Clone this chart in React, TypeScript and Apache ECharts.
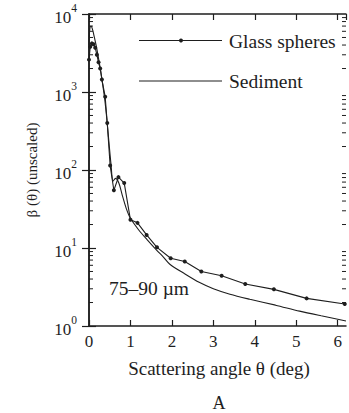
import React, { useEffect, useRef } from "react";
import * as echarts from "echarts";

// Glass spheres: measured phase function (connected points with markers)
const glassAngle = [0, 0.03, 0.07, 0.11, 0.15, 0.19, 0.23, 0.27, 0.31, 0.39, 0.44, 0.51, 0.6, 0.71, 0.85, 1.0, 1.17, 1.39, 1.64, 1.97, 2.31, 2.71, 3.2, 3.77, 4.46, 5.25, 6.17];
const glassBeta = [2600, 3800, 4200, 4100, 3700, 3000, 2400, 2000, 1450, 870, 400, 114, 55, 81, 68, 23, 21, 14.7, 10.2, 7.4, 6.7, 5.0, 4.4, 3.45, 2.95, 2.26, 1.91];

// Sediment: smooth curve without markers
const sedimentAngle = [0, 0.02, 0.05, 0.09, 0.13, 0.18, 0.23, 0.28, 0.33, 0.38, 0.43, 0.48, 0.53, 0.58, 0.64, 0.72, 0.8, 0.9, 1.0, 1.2, 1.4, 1.63, 1.8, 1.95, 2.3, 2.67, 3.0, 3.4, 3.88, 4.5, 5.08, 5.6, 6.2];
const sedimentBeta = [4000, 6500, 7000, 6200, 5000, 3800, 2700, 1900, 1250, 800, 450, 230, 120, 72, 78, 68, 48, 32, 24, 17, 12.8, 9.4, 7.6, 6.2, 4.7, 3.6, 3.0, 2.55, 2.2, 1.85, 1.55, 1.35, 1.16];

// Axis structure
const xMin = 0;
const xMax = 6.2;
const yDecades = [0, 1, 2, 3, 4];
const minorMantissas = [2, 3, 4, 5, 6, 7, 8, 9];

const SERIF = "Liberation Serif";
const INK = "#1e1e1e";

// free-standing text placed through title components
const label = (text: string, left: number, top: number, fontSize: number, textAlign = "left") => ({
  text,
  left,
  top,
  padding: 0,
  textAlign,
  textVerticalAlign: "middle",
  textStyle: { fontFamily: SERIF, fontSize, fontWeight: "normal", color: INK },
});

export default function App() {
  const ref = useRef<HTMLDivElement>(null);

  useEffect(() => {
    const chart = echarts.init(ref.current!, null, { renderer: "svg" });

    const minorTicks: number[][] = [];
    for (let d = 0; d < yDecades.length - 1; d++) {
      for (const m of minorMantissas) minorTicks.push([xMin, m * Math.pow(10, yDecades[d])]);
    }

    const xAxisBase = {
      type: "value",
      min: xMin,
      max: xMax,
      interval: 1,
      axisLine: { show: true, onZero: false, lineStyle: { color: INK, width: 1.5 } },
      axisTick: { show: true, inside: true, length: 6, lineStyle: { color: INK, width: 1.2 } },
      splitLine: { show: false },
    };
    const yAxisBase = {
      type: "log",
      logBase: 10,
      min: Math.pow(10, yDecades[0]),
      max: Math.pow(10, yDecades[yDecades.length - 1]),
      axisLine: { show: true, lineStyle: { color: INK, width: 1.5 } },
      axisTick: { show: true, inside: true, length: 7, lineStyle: { color: INK, width: 1.2 } },
      splitLine: { show: false },
    };

    chart.setOption({
      animation: false,
      title: [
        label("Glass spheres", 229, 41, 19.5),
        label("Sediment", 229, 81.5, 19.5),
        label("75–90 µm", 109, 288, 19.5),
        label("Scattering angle θ (deg)", 219, 368, 19, "center"),
        label("A", 219, 403, 18, "center"),
      ],
      grid: { left: 89, right: 3, top: 14, bottom: 87 },
      xAxis: [
        {
          ...xAxisBase,
          position: "bottom",
          axisLabel: {
            fontFamily: SERIF,
            fontSize: 17,
            color: INK,
            margin: 7,
            showMaxLabel: false,
            formatter: (v: number) => (Number.isInteger(v) ? String(v) : ""),
          },
        },
        { ...xAxisBase, position: "top", axisLabel: { show: false } },
      ],
      yAxis: [
        {
          ...yAxisBase,
          position: "left",
          name: "β (θ) (unscaled)",
          nameLocation: "middle",
          nameRotate: 90,
          nameGap: 50,
          nameTextStyle: { fontFamily: SERIF, fontSize: 15, color: INK },
          axisLabel: {
            margin: 12,
            formatter: (v: number) => `{b|10}{s|${Math.round(Math.log10(v))}}`,
            rich: {
              b: { fontFamily: SERIF, fontSize: 17, color: INK, verticalAlign: "bottom", lineHeight: 16 },
              s: { fontFamily: SERIF, fontSize: 11.5, color: INK, verticalAlign: "top", lineHeight: 24 },
            },
          },
        },
        { ...yAxisBase, position: "right", axisLabel: { show: false } },
      ],
      series: [
        {
          name: "Sediment",
          type: "line",
          data: sedimentAngle.map((a, i) => [a, sedimentBeta[i]]),
          symbol: "none",
          smooth: 0.3,
          lineStyle: { color: INK, width: 1.1 },
          z: 3,
        },
        {
          name: "Glass spheres",
          type: "line",
          data: glassAngle.map((a, i) => [a, glassBeta[i]]),
          symbol: "circle",
          symbolSize: 4,
          itemStyle: { color: INK },
          lineStyle: { color: INK, width: 1.1 },
          z: 4,
        },
        {
          // minor log ticks on the left and right frame edges
          type: "custom",
          silent: true,
          clip: false,
          data: minorTicks,
          encode: { x: 0, y: 1 },
          renderItem: (_params: any, api: any) => {
            const v = api.value(1);
            const l = api.coord([xMin, v]);
            const r = api.coord([xMax, v]);
            const style = { stroke: INK, lineWidth: 1 };
            return {
              type: "group",
              children: [
                { type: "line", shape: { x1: l[0], y1: l[1], x2: l[0] + 4, y2: l[1] }, style },
                { type: "line", shape: { x1: r[0] - 4, y1: r[1], x2: r[0], y2: r[1] }, style },
              ],
            };
          },
          z: 5,
        },
      ],
      graphic: [
        // legend keys
        { type: "line", shape: { x1: 139, y1: 40.5, x2: 222, y2: 40.5 }, style: { stroke: INK, lineWidth: 1.1 } },
        { type: "circle", shape: { cx: 181, cy: 40.5, r: 2 }, style: { fill: INK } },
        { type: "line", shape: { x1: 139, y1: 81, x2: 222, y2: 81 }, style: { stroke: INK, lineWidth: 1.1 } },
      ],
    });

    return () => chart.dispose();
  }, []);

  return (
    <div
      ref={ref}
      style={{ position: "absolute", left: 0, top: 0, width: 349, height: 413, background: "#fff" }}
    />
  );
}
